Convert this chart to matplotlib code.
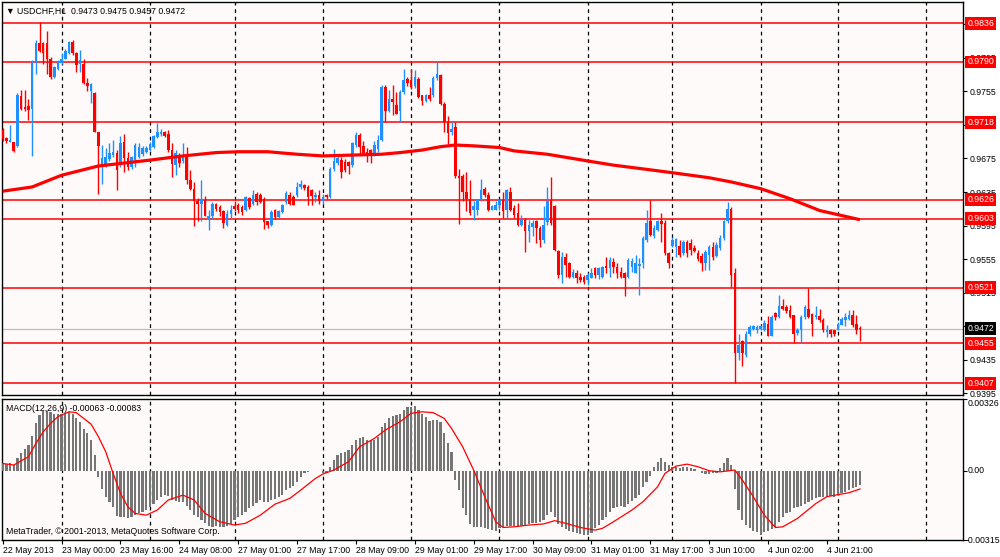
import numpy as np
import matplotlib
matplotlib.use("Agg")
import matplotlib.pyplot as plt
from matplotlib.transforms import blended_transform_factory

plt.rcParams['font.family'] = ['Liberation Sans', 'DejaVu Sans']

# ---------------- data ----------------
opens = [.9709,.9699,.9695,.9694,.9690,.9749,.9736,.9737,.9734,.9790,
 .9813,.9812,.9813,.9794,.9772,.9781,.9789,.9794,.9801,.9814,
 .9801,.9788,.9788,.9765,.9755,.9753,.9706,.9665,.9667,.9674,
 .9679,.9681,.9667,.9694,.9675,.9665,.9673,.9677,.9680,.9683,
 .9685,.9689,.9701,.9704,.9707,.9704,.9685,.9667,.9679,.9672,
 .9679,.9649,.9639,.9624,.9621,.9626,.9602,.9606,.9621,.9617,
 .9612,.9596,.9609,.9618,.9619,.9617,.9613,.9628,.9621,.9633,
 .9631,.9627,.9600,.9596,.9613,.9605,.9611,.9623,.9632,.9629,
 .9631,.9641,.9643,.9641,.9637,.9629,.9631,.9624,.9631,.9629,
 .9662,.9669,.9673,.9671,.9671,.9667,.9691,.9703,.9690,.9683,
 .9685,.9679,.9686,.9697,.9760,.9732,.9746,.9739,.9732,.9754,
 .9770,.9769,.9761,.9770,.9750,.9744,.9750,.9750,.9771,.9775,
 .9740,.9719,.9706,.9713,.9654,.9654,.9635,.9627,.9613,.9614,
 .9626,.9638,.9631,.9614,.9614,.9619,.9626,.9613,.9635,.9616,
 .9610,.9596,.9602,.9588,.9593,.9600,.9592,.9578,.9599,.9626,
 .9618,.9565,.9536,.9558,.9550,.9534,.9539,.9534,.9534,.9530,
 .9533,.9544,.9536,.9534,.9547,.9544,.9552,.9546,.9540,.9538,
 .9534,.9546,.9539,.9547,.9550,.9578,.9600,.9582,.9590,.9600,
 .9598,.9562,.9571,.9569,.9571,.9562,.9576,.9574,.9568,.9562,
 .9559,.9550,.9560,.9570,.9559,.9568,.9580,.9600,.9615,.9538,
 .9443,.9458,.9441,.9466,.9472,.9471,.9472,.9471,.9478,.9464,
 .9491,.9486,.9499,.9498,.9495,.9488,.9467,.9470,.9486,.9496,
 .9490,.9486,.9487,.9482,.9468,.9470,.9470,.9471,.9477,.9482,
 .9484,.9488,.9478,.9473]
highs = [.9711,.9701,.9715,.9695,.9753,.9757,.9757,.9746,.9792,.9816,
 .9837,.9814,.9827,.9796,.9785,.9792,.9801,.9805,.9815,.9816,
 .9802,.9804,.9793,.9771,.9765,.9754,.9707,.9691,.9687,.9693,
 .9697,.9685,.9702,.9704,.9683,.9678,.9693,.9693,.9690,.9690,
 .9694,.9703,.9717,.9710,.9708,.9709,.9693,.9685,.9682,.9693,
 .9689,.9661,.9647,.9628,.9649,.9630,.9614,.9623,.9622,.9620,
 .9614,.9614,.9620,.9624,.9622,.9620,.9630,.9629,.9637,.9635,
 .9634,.9629,.9601,.9613,.9615,.9614,.9621,.9636,.9635,.9631,
 .9647,.9649,.9645,.9643,.9639,.9635,.9637,.9633,.9633,.9665,
 .9686,.9679,.9677,.9674,.9672,.9695,.9706,.9705,.9696,.9687,
 .9686,.9696,.9703,.9762,.9762,.9757,.9763,.9754,.9756,.9781,
 .9772,.9781,.9780,.9772,.9751,.9752,.9760,.9773,.9791,.9776,
 .9742,.9726,.9719,.9719,.9663,.9656,.9659,.9649,.9624,.9627,
 .9651,.9641,.9635,.9620,.9624,.9627,.9635,.9639,.9641,.9620,
 .9622,.9608,.9604,.9602,.9602,.9602,.9595,.9618,.9641,.9653,
 .9620,.9566,.9564,.9562,.9552,.9543,.9542,.9538,.9536,.9538,
 .9544,.9546,.9546,.9547,.9557,.9558,.9556,.9550,.9546,.9540,
 .9556,.9556,.9560,.9556,.9582,.9613,.9626,.9596,.9602,.9610,
 .9602,.9563,.9581,.9580,.9578,.9578,.9578,.9579,.9572,.9566,
 .9562,.9566,.9572,.9576,.9576,.9584,.9602,.9623,.9617,.9544,
 .9466,.9459,.9469,.9476,.9476,.9476,.9477,.9482,.9487,.9488,
 .9492,.9512,.9508,.9500,.9500,.9489,.9473,.9488,.9500,.9521,
 .9491,.9499,.9496,.9485,.9476,.9472,.9471,.9480,.9486,.9491,
 .9495,.9494,.9488,.9475]
lows = [.9696,.9693,.9694,.9683,.9689,.9733,.9731,.9721,.9678,.9776,
 .9802,.9788,.9776,.9770,.9771,.9780,.9788,.9793,.9800,.9798,
 .9778,.9778,.9764,.9755,.9741,.9706,.9633,.9645,.9665,.9672,
 .9677,.9637,.9665,.9659,.9661,.9662,.9665,.9675,.9678,.9681,
 .9684,.9688,.9699,.9702,.9701,.9683,.9653,.9655,.9665,.9669,
 .9645,.9637,.9594,.9601,.9601,.9606,.9590,.9604,.9612,.9607,
 .9592,.9594,.9604,.9612,.9610,.9608,.9612,.9615,.9619,.9619,
 .9622,.9591,.9592,.9595,.9603,.9604,.9610,.9621,.9620,.9619,
 .9629,.9639,.9637,.9619,.9619,.9623,.9621,.9621,.9627,.9628,
 .9660,.9667,.9652,.9659,.9657,.9665,.9689,.9679,.9680,.9671,
 .9670,.9678,.9683,.9696,.9719,.9730,.9727,.9728,.9719,.9752,
 .9761,.9758,.9759,.9747,.9739,.9742,.9744,.9748,.9769,.9739,
 .9707,.9692,.9703,.9652,.9597,.9624,.9612,.9608,.9602,.9608,
 .9624,.9629,.9612,.9613,.9613,.9614,.9604,.9604,.9612,.9604,
 .9594,.9594,.9564,.9575,.9582,.9574,.9569,.9574,.9596,.9596,
 .9565,.9532,.9526,.9534,.9532,.9532,.9526,.9528,.9525,.9524,
 .9532,.9532,.9531,.9532,.9539,.9534,.9538,.9532,.9532,.9511,
 .9532,.9540,.9538,.9512,.9544,.9576,.9582,.9580,.9588,.9576,
 .9560,.9544,.9570,.9558,.9558,.9560,.9558,.9560,.9563,.9553,
 .9541,.9542,.9542,.9554,.9557,.9566,.9578,.9598,.9522,.9408,
 .9435,.9428,.9439,.9464,.9471,.9467,.9471,.9469,.9463,.9463,
 .9483,.9485,.9494,.9491,.9485,.9455,.9465,.9455,.9484,.9485,
 .9464,.9484,.9480,.9468,.9462,.9462,.9463,.9470,.9476,.9475,
 .9482,.9474,.9466,.9457]
closes = [.9698,.9696,.9697,.9684,.9751,.9734,.9734,.9733,.9790,.9813,
 .9803,.9801,.9794,.9772,.9784,.9790,.9793,.9803,.9814,.9801,
 .9786,.9792,.9765,.9761,.9764,.9706,.9690,.9675,.9677,.9681,
 .9683,.9661,.9693,.9675,.9665,.9677,.9691,.9689,.9687,.9688,
 .9692,.9702,.9706,.9707,.9702,.9685,.9668,.9681,.9669,.9679,
 .9649,.9639,.9624,.9621,.9626,.9607,.9607,.9621,.9615,.9611,
 .9598,.9609,.9614,.9615,.9613,.9611,.9629,.9617,.9632,.9623,
 .9623,.9599,.9596,.9611,.9605,.9612,.9620,.9634,.9621,.9620,
 .9641,.9645,.9640,.9629,.9630,.9631,.9624,.9629,.9629,.9663,
 .9672,.9675,.9659,.9661,.9666,.9693,.9703,.9689,.9681,.9680,
 .9679,.9691,.9697,.9760,.9732,.9746,.9742,.9728,.9754,.9768,
 .9765,.9760,.9772,.9748,.9744,.9750,.9746,.9771,.9776,.9740,
 .9719,.9705,.9710,.9654,.9652,.9635,.9627,.9610,.9618,.9625,
 .9637,.9631,.9614,.9618,.9619,.9625,.9612,.9637,.9614,.9608,
 .9596,.9602,.9588,.9596,.9598,.9592,.9578,.9596,.9624,.9598,
 .9566,.9536,.9558,.9548,.9534,.9540,.9532,.9530,.9528,.9536,
 .9538,.9536,.9544,.9546,.9544,.9554,.9546,.9538,.9534,.9533,
 .9554,.9553,.9550,.9549,.9580,.9598,.9584,.9592,.9600,.9597,
 .9562,.9550,.9578,.9579,.9560,.9576,.9562,.9566,.9565,.9555,
 .9551,.9564,.9570,.9558,.9572,.9580,.9600,.9615,.9536,.9443,
 .9453,.9443,.9466,.9474,.9475,.9474,.9475,.9479,.9464,.9486,
 .9486,.9499,.9496,.9493,.9486,.9466,.9471,.9486,.9498,.9486,
 .9478,.9489,.9482,.9471,.9471,.9466,.9466,.9478,.9484,.9486,
 .9488,.9476,.9471,.9472]

# moving average (thick red line), read at selected bars
ma_bars = [0, 8, 16, 26, 40, 49, 58, 64, 72, 80, 87, 95, 103, 108, 114, 119, 123,
           128, 135, 139, 148, 159, 166, 175, 182, 192, 198, 206, 214, 222, 228, 233]
ma_vals = [.9636, .9641, .9655, .9666, .9673, .9678, .9682, .9683, .9683, .9680, .9678,
           .9679, .9680, .9682, .9685, .9689, .9691, .9690, .9688, .9684, .9680, .9672,
           .9667, .9662, .9658, .9652, .9647, .9639, .9627, .9613, .9607, .9602]

# MACD histogram (main line) per bar
macd = [.00033,.0003,.00033,.00026,.0006,.00082,.00097,.00117,.00158,.00215,
 .00253,.00273,.00273,.00268,.0026,.0026,.0026,.00264,.00268,.00258,
 .00238,.00223,.00192,.0017,.00139,.00071,-.00027,-.00085,-.00118,-.00141,
 -.00167,-.00206,-.00209,-.00212,-.00217,-.00212,-.00202,-.00194,-.00186,-.00179,
 -.00167,-.00149,-.00133,-.00121,-.00111,-.00115,-.00133,-.00136,-.00141,-.00141,
 -.00161,-.00179,-.00202,-.00212,-.00224,-.00239,-.00252,-.00255,-.00252,-.00255,
 -.00258,-.00252,-.00242,-.00224,-.00212,-.00202,-.00186,-.00171,-.00161,-.00145,
 -.00133,-.00141,-.00141,-.00133,-.0013,-.00121,-.00111,-.00088,-.0008,-.0007,
 -.0005,-.0003,-.00012,-.00005,-.00003,-.00002,-.00003,-.00009,-.00012,.00018,
 .00048,.00071,.00079,.00086,.00094,.00117,.00139,.00147,.00152,.00142,
 .00139,.00142,.00152,.002,.00215,.00238,.00249,.00253,.0026,.00276,
 .00288,.00291,.00294,.00276,.00258,.00246,.00227,.0023,.0023,.00223,
 .0017,.00124,.00086,-.00042,-.00088,-.00171,-.00202,-.00242,-.00255,-.00258,
 -.00258,-.00262,-.00267,-.0027,-.00273,-.00262,-.00258,-.00252,-.00252,-.00252,
 -.00255,-.00252,-.00247,-.00242,-.00239,-.00239,-.00232,-.00224,-.00202,-.00186,
 -.00212,-.00242,-.00255,-.00267,-.00273,-.00277,-.00285,-.00288,-.00292,-.00292,
 -.00285,-.00262,-.00247,-.00224,-.00212,-.00186,-.00171,-.00164,-.00161,-.00167,
 -.00149,-.00136,-.00126,-.00111,-.00076,-.0005,-.00024,.00018,.00041,.0006,
 .00041,.00026,.00018,.00018,.00011,.00018,.00015,.00011,.00006,.0,
 -.00012,-.00015,-.00015,-.00012,-.00009,.00011,.00033,.00056,.00026,-.00085,
 -.00179,-.00224,-.00247,-.00262,-.00273,-.00277,-.00292,-.0028,-.00273,-.00267,
 -.00255,-.00232,-.00209,-.00194,-.00186,-.00171,-.00164,-.00161,-.00152,-.00141,
 -.00133,-.00126,-.00121,-.00121,-.00118,-.00115,-.00118,-.0011,-.00103,-.00095,
 -.00088,-.0008,-.00072,-.00063]

# MACD signal line, read at selected bars
sig_bars = [0, 3, 7, 9, 11, 13, 15, 18, 20, 22, 24, 26, 28, 30, 32, 34, 36, 39, 42, 45,
            49, 52, 55, 59, 63, 66, 70, 74, 78, 81, 85, 87, 90, 94, 97, 101, 104, 108,
            111, 114, 117, 120, 122, 125, 128, 131, 134, 136, 139, 143, 147, 150, 153,
            157, 161, 163, 166, 171, 174, 178, 180, 183, 186, 189, 192, 195, 199, 201,
            204, 207, 210, 212, 216, 221, 224, 228, 230, 233]
sig_vals = [.00033, .00026, .00064, .00124, .00177, .00215, .00246, .00268, .00264, .00238,
            .00212, .00155, .00086, -.00012, -.00103, -.00164, -.00194, -.00202, -.00179,
            -.00133, -.00111, -.00133, -.00194, -.00232, -.00247, -.00239, -.00202, -.00152,
            -.00126, -.00088, -.00035, -.00015, .00003, .00041, .00109, .00147, .00185,
            .00223, .00261, .00268, .00264, .00238, .00192, .00109, .00003, -.00118,
            -.00232, -.00258, -.00255, -.00247, -.00242, -.00227, -.00239, -.00258, -.0027,
            -.00262, -.00232, -.00179, -.00141, -.00073, -.00012, .00021, .0003, .00018,
            .0, -.00005, .00003, -.00042, -.00118, -.00202, -.00258, -.00255, -.00217,
            -.00149, -.00118, -.00106, -.001, -.00083]

levels = [0.9836, 0.9790, 0.9718, 0.9626, 0.9603, 0.9521, 0.9455, 0.9407]
last_price = 0.9472
price_ticks = [0.9395, 0.9435, 0.9475, 0.9515, 0.9555, 0.9595, 0.9635, 0.9675,
               0.9715, 0.9755, 0.9795, 0.9835]
hidden_tick_labels = [0.9715, 0.9835]   # fully covered by level boxes in the reference
time_tick_bars = [0, 16, 32, 48, 64, 80, 96, 112, 128, 144, 160, 176, 192, 208, 224]
time_labels = ["22 May 2013", "23 May 00:00", "23 May 16:00", "24 May 08:00",
               "27 May 01:00", "27 May 17:00", "28 May 09:00", "29 May 01:00",
               "29 May 17:00", "30 May 09:00", "31 May 01:00", "31 May 17:00",
               "3 Jun 10:00", "4 Jun 02:00", "4 Jun 21:00"]
grid_bars = [16, 40, 63, 87, 111, 135, 159, 182, 206, 227, 251]
title_text = "\u25BC USDCHF,H1  0.9473 0.9475 0.9457 0.9472"
macd_text = "MACD(12,26,9) -0.00063 -0.00083"
copyright_text = "MetaTrader, \u00A9 2001-2013, MetaQuotes Software Corp."

# ---------------- drawing ----------------
BG = '#FFFAFA'
BULL = '#1E90FF'
BEAR = '#FF0000'
FS = 6.3

fig = plt.figure(figsize=(10, 5.57), dpi=100, facecolor='white')
ax = fig.add_axes([0.002, 0.2908, 0.961, 0.7056], facecolor=BG)
ax2 = fig.add_axes([0.002, 0.0305, 0.961, 0.2531], facecolor=BG, sharex=ax)

o = np.array(opens); h = np.array(highs); l = np.array(lows); c = np.array(closes)
x = np.arange(len(o))
cols = np.where(c >= o, BULL, BEAR)

for b in grid_bars:
    ax.axvline(b, color='black', lw=0.9, ls=(0, (3, 3)), zorder=1)
    ax2.axvline(b, color='black', lw=0.9, ls=(0, (3, 3)), zorder=1)

for lv in levels:
    ax.axhline(lv, color='red', lw=1.1, zorder=2)
ax.axhline(last_price, color='#BBBBBB', lw=0.9, zorder=1.5)

ax.vlines(x, l, h, colors=cols, lw=1.0, zorder=3)
body_low = np.minimum(o, c)
body_h = np.maximum(np.abs(c - o), 0.00006)
ax.bar(x, body_h, bottom=body_low, width=0.7, color=cols, linewidth=0, zorder=4)

ax.plot(ma_bars, ma_vals, color='red', lw=2.3, zorder=5, solid_capstyle='butt')

ax.set_xlim(-0.2, 261.0)
ax.set_ylim(0.93931, 0.98614)

ax.yaxis.set_ticks_position('right')
ax.set_yticks(price_ticks)
ax.set_yticklabels(["" if v in hidden_tick_labels else f"{v:.4f}" for v in price_ticks])
ax.tick_params(axis='y', direction='out', length=3, width=0.8, pad=2,
               labelsize=FS, colors='black')
ax.tick_params(axis='x', bottom=False, labelbottom=False)

tr = blended_transform_factory(ax.transAxes, ax.transData)
for lv in levels:
    ax.text(1.0045, lv, f"{lv:.4f}", transform=tr, ha='left', va='center',
            fontsize=FS, color='white', clip_on=False, zorder=10,
            bbox=dict(boxstyle='square,pad=0.22', fc='#FF0000', ec='none'))
ax.text(1.0045, last_price, f"{last_price:.4f}", transform=tr, ha='left', va='center',
        fontsize=FS, color='white', clip_on=False, zorder=10,
        bbox=dict(boxstyle='square,pad=0.22', fc='black', ec='none'))

ax.text(0.004, 0.988, title_text, transform=ax.transAxes, ha='left', va='top',
        fontsize=FS, color='black', zorder=10)

# MACD panel
ax2.bar(x, macd, width=0.6, color='#767676', linewidth=0, zorder=3)
ax2.plot(sig_bars, sig_vals, color='red', lw=0.9, zorder=4)
ax2.set_ylim(-0.00315, 0.00326)
ax2.yaxis.set_ticks_position('right')
ax2.set_yticks([0.00326, 0.0, -0.00315])
ax2.set_yticklabels([])
ax2.tick_params(axis='y', direction='out', length=3, width=0.8)
tr2 = blended_transform_factory(ax2.transAxes, ax2.transData)
ax2.text(1.005, 0.00326, "0.00326", transform=tr2, ha='left', va='top',
         fontsize=FS, clip_on=False)
ax2.text(1.005, 0.0, "0.00", transform=tr2, ha='left', va='center',
         fontsize=FS, clip_on=False)
ax2.text(1.003, -0.00315, "-0.00315", transform=tr2, ha='left', va='center',
         fontsize=FS, clip_on=False)

ax2.set_xticks(time_tick_bars)
ax2.set_xticklabels(time_labels, ha='left')
ax2.tick_params(axis='x', direction='out', length=3, width=0.8, pad=1,
                labelsize=FS)

ax2.text(0.004, 0.965, macd_text, transform=ax2.transAxes, ha='left', va='top',
         fontsize=FS, zorder=10)
ax2.text(0.004, 0.025, copyright_text, transform=ax2.transAxes, ha='left',
         va='bottom', fontsize=FS, zorder=10)

for a in (ax, ax2):
    for s in a.spines.values():
        s.set_color('black')
        s.set_linewidth(1.0)

fig.savefig("out.png", dpi=100, facecolor='white')
